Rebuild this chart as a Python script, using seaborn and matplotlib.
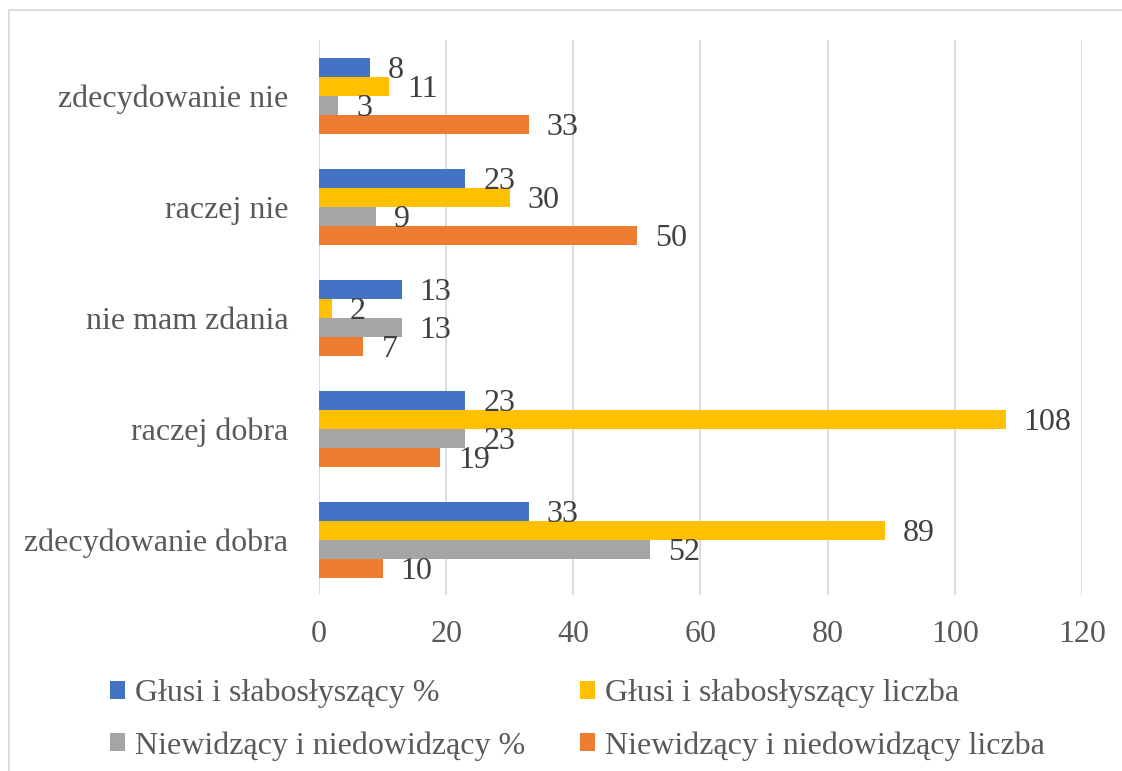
import matplotlib
matplotlib.use("Agg")
import matplotlib.pyplot as plt
from matplotlib.lines import Line2D
from matplotlib.patches import Patch
import pandas as pd
import seaborn as sns

categories = ["zdecydowanie nie", "raczej nie", "nie mam zdania",
              "raczej dobra", "zdecydowanie dobra"]
series_names = ["Głusi i słabosłyszący %", "Głusi i słabosłyszący liczba",
                "Niewidzący i niedowidzący %", "Niewidzący i niedowidzący liczba"]
deaf_pct = [8, 23, 13, 23, 33]
deaf_count = [11, 30, 2, 108, 89]
blind_pct = [3, 9, 13, 23, 52]
blind_count = [33, 50, 7, 19, 10]
x_ticks = [0, 20, 40, 60, 80, 100, 120]

colors = ["#4472C4", "#FFC000", "#A5A5A5", "#ED7D31"]

rows = []
for name, vals in zip(series_names, [deaf_pct, deaf_count, blind_pct, blind_count]):
    for cat, v in zip(categories, vals):
        rows.append({"kategoria": cat, "seria": name, "wartosc": v})
df = pd.DataFrame(rows)

sns.set_theme(style="white")
plt.rcParams["font.family"] = ["Liberation Serif", "DejaVu Serif"]

FS = 23

fig = plt.figure(figsize=(11.22, 7.71), dpi=100)
ax = fig.add_axes([0.2843, 0.228, 0.68, 0.72])

sns.barplot(data=df, y="kategoria", x="wartosc", hue="seria",
            order=categories, hue_order=series_names, palette=colors,
            orient="h", width=0.685, linewidth=0, saturation=1,
            legend=False, ax=ax)

for cont in ax.containers:
    texts = ax.bar_label(cont, padding=13, fontsize=FS, color="#404040")
    for t in texts:
        t.xyann = (t.xyann[0], -2.2)

ax.set_xlim(0, 120)
ax.set_xticks(x_ticks)
ax.set_ylim(4.5, -0.5)
ax.set_xlabel("")
ax.set_ylabel("")
ax.grid(axis="x", color="#D9D9D9", linewidth=1.3)
ax.grid(axis="y", visible=False)
ax.set_axisbelow(True)
for s in ax.spines.values():
    s.set_visible(False)
ax.tick_params(axis="both", length=0, labelsize=FS, labelcolor="#595959")
ax.tick_params(axis="x", pad=18)
ax.tick_params(axis="y", pad=22)

handles = [Patch(facecolor=colors[i], edgecolor="none") for i in [0, 2, 1, 3]]
leg_labels = [series_names[i] for i in [0, 2, 1, 3]]
fig.legend(handles, leg_labels, loc="center", bbox_to_anchor=(0.5145, 0.0665),
           ncol=2, frameon=False, fontsize=FS, labelcolor="#595959",
           handlelength=0.48, handleheight=0.48, handletextpad=0.3,
           columnspacing=1.7, labelspacing=0.72)

# chart area outline (top and left edges)
fig.add_artist(Line2D([9 / 1122, 1.0], [1 - 10 / 771, 1 - 10 / 771],
                      transform=fig.transFigure, color="#D9D9D9", linewidth=1.3))
fig.add_artist(Line2D([9 / 1122, 9 / 1122], [1 - 10 / 771, 0.0],
                      transform=fig.transFigure, color="#D9D9D9", linewidth=1.3))

fig.savefig("out.png", dpi=100, facecolor="white")
